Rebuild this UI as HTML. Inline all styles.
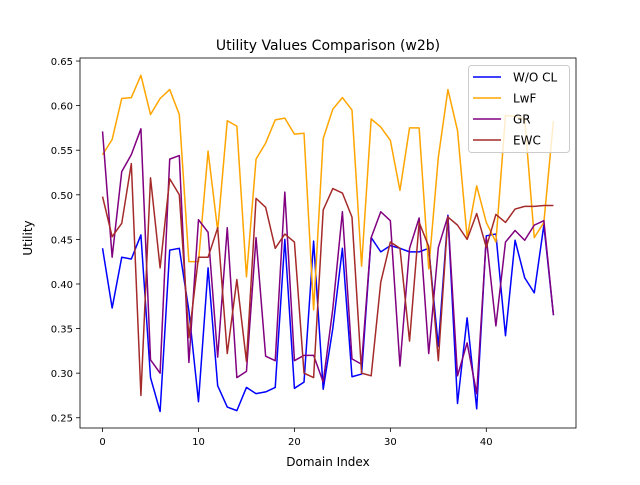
<!DOCTYPE html>
<html><head><meta charset="utf-8"><style>
body{margin:0;background:#fff;width:640px;height:480px;overflow:hidden}
svg text{font-family:"DejaVu Sans","Liberation Sans",sans-serif;fill:#000}
</style></head><body>
<svg id="chart" width="640" height="480" xmlns="http://www.w3.org/2000/svg">
<rect width="640" height="480" fill="#fff"/>
<text x="328" y="50" font-size="14" text-anchor="middle">Utility Values Comparison (w2b)</text>
<g id="plot"></g>
<text x="328" y="466" font-size="12" text-anchor="middle">Domain Index</text>
<text x="32" y="238" font-size="12" text-anchor="middle" transform="rotate(-90 32 238)">Utility</text>
</svg>
<script>
const xTicks=[0,10,20,30,40];
const yTicks=[0.25,0.30,0.35,0.40,0.45,0.50,0.55,0.60,0.65];
const seriesNames=["W/O CL","LwF","GR","EWC"];
const seriesColors=["#0000ff","#ffa500","#800080","#a52a2a"];
const woCL=[0.44,0.373,0.43,0.428,0.455,0.295,0.257,0.438,0.44,0.37,0.268,0.418,0.286,0.262,0.258,0.284,0.277,0.279,0.284,0.45,0.283,0.29,0.448,0.282,0.35,0.44,0.296,0.299,0.452,0.436,0.443,0.44,0.436,0.436,0.44,0.33,0.477,0.266,0.362,0.26,0.454,0.456,0.342,0.449,0.407,0.39,0.466,0.365];
const lwf=[0.545,0.562,0.608,0.609,0.634,0.59,0.608,0.618,0.59,0.425,0.425,0.549,0.46,0.583,0.577,0.408,0.54,0.558,0.584,0.586,0.568,0.569,0.371,0.563,0.596,0.609,0.595,0.42,0.585,0.576,0.561,0.505,0.575,0.575,0.417,0.542,0.618,0.572,0.452,0.51,0.469,0.447,0.589,0.588,0.585,0.452,0.469,0.583];
const gr=[0.571,0.43,0.526,0.545,0.574,0.315,0.3,0.54,0.544,0.312,0.472,0.458,0.318,0.463,0.295,0.302,0.452,0.319,0.314,0.503,0.314,0.32,0.32,0.29,0.372,0.481,0.316,0.31,0.452,0.481,0.471,0.308,0.44,0.474,0.322,0.441,0.476,0.297,0.334,0.277,0.452,0.353,0.447,0.46,0.449,0.466,0.471,0.365];
const ewc=[0.498,0.453,0.468,0.535,0.275,0.519,0.418,0.518,0.5,0.34,0.43,0.43,0.463,0.322,0.405,0.313,0.496,0.486,0.44,0.456,0.447,0.3,0.295,0.483,0.507,0.502,0.475,0.3,0.297,0.402,0.447,0.44,0.336,0.469,0.442,0.314,0.475,0.466,0.45,0.479,0.441,0.478,0.469,0.484,0.487,0.487,0.488,0.488];
const allSeries=[woCL,lwf,gr,ewc];
const L=80,R=576,T=58,B=428;
const xMin=-2.35,xMax=49.35,yMin=0.2385,yMax=0.6534;
const xS=v=>L+(v-xMin)/(xMax-xMin)*(R-L);
const yS=v=>B-(v-yMin)/(yMax-yMin)*(B-T);
const NS="http://www.w3.org/2000/svg";
const g=document.getElementById('plot');
function mk(tag,attrs,parent){const e=document.createElementNS(NS,tag);for(const k in attrs)e.setAttribute(k,attrs[k]);(parent||g).appendChild(e);return e;}
xTicks.forEach(t=>{
 const x=xS(t);
 const tk=mk('line',{x1:x,x2:x,y1:B,y2:B+4,stroke:'#000','stroke-width':0.8});
 
 
 const tx=mk('text',{x:x,y:B+17,'font-size':10,'text-anchor':'middle'});tx.textContent=t;
 
 
});
yTicks.forEach(t=>{
 const y=yS(t);
 const tk=mk('line',{x1:L-4,x2:L,y1:y,y2:y,stroke:'#000','stroke-width':0.8});
 
 
 const tx=mk('text',{x:L-7,y:y+4,'font-size':10,'text-anchor':'end'});tx.textContent=t.toFixed(2);
 
 
});
allSeries.forEach((s,i)=>{
 const p=mk('polyline',{points:s.map((v,j)=>xS(j)+','+yS(v)).join(' '),fill:'none',stroke:seriesColors[i],'stroke-width':1.5,'stroke-linejoin':'round'});
 
 
});
const frame=mk('rect',{x:L,y:T,width:R-L,height:B-T,fill:'none',stroke:'#000','stroke-width':0.8});


const lg=mk('g',{});


mk('rect',{x:468.5,y:65.5,width:101,height:87,rx:3,fill:'#fff','fill-opacity':0.8,stroke:'#ccc'},lg);
seriesNames.forEach((n,i)=>{
 const y=77+i*21;
 const e=mk('g',{},lg);
 
 
 mk('line',{x1:473,x2:501,y1:y,y2:y,stroke:seriesColors[i],'stroke-width':1.5},e);
 const t=mk('text',{x:513,y:y+4.5,'font-size':12},e);t.textContent=n;
});
</script>
</body></html>
